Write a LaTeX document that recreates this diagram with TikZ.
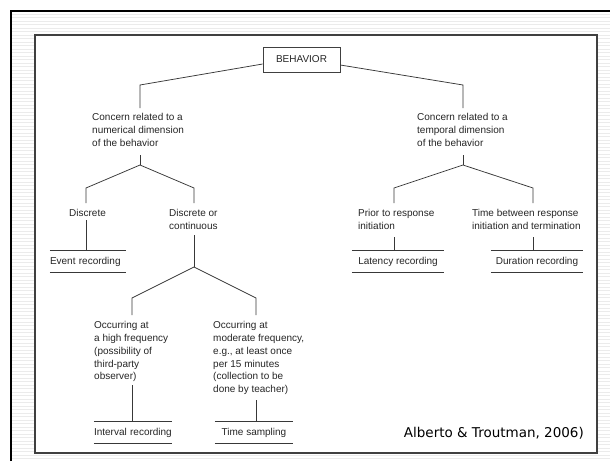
\documentclass[tikz,border=0pt]{standalone}
\usepackage{fontspec}
\setmainfont{Liberation Sans}
\newfontfamily\citefont{DejaVu Sans}
\begin{document}
\begin{tikzpicture}[x=1pt,y=-1pt,
  ln/.style={draw=black!78, line width=0.75pt},
  lbl/.style={inner sep=0pt, align=left, anchor=north west, font=\fontsize{10}{12.8}\selectfont, text=black!85},
  rec/.style={inner sep=0pt, minimum height=21pt, text height=7.5pt, text depth=2pt, font=\fontsize{10}{12}\selectfont, text=black!85},
  recl/.style={rec, align=left},
  stripe/.style={draw=gray!16, line width=1pt}]
\useasboundingbox (0,0) rectangle (610,461);
\fill[white] (0,0) rectangle (610,461);
\foreach \yy in {14,17.5,...,460} \draw[stripe] (12,\yy) -- (610,\yy);
\draw[line width=2.5pt] (11,461) -- (11,11) -- (610,11);
\draw[draw=black!75, line width=1.5pt, fill=white] (35,35) rectangle (597,453);

% nodes
\node[draw=black!75, line width=0.7pt, minimum width=77pt, minimum height=25pt, inner sep=0pt, font=\fontsize{10}{12}\selectfont, text=black!85] (beh) at (301.5,59.5) {BEHAVIOR};
\node[lbl] (num) at (92,113.5) {Concern related to a\\numerical dimension\\of the behavior};
\node[lbl] (tmp) at (417,113.5) {Concern related to a\\temporal dimension\\of the behavior};
\node[lbl] (disc) at (69,209.3) {Discrete};
\node[lbl] (dorc) at (169,209.3) {Discrete or\\continuous};
\node[lbl] (prior) at (358,209.3) {Prior to response\\initiation};
\node[lbl] (tbet) at (472,209.3) {Time between response\\initiation and termination};
\node[lbl] (high) at (94,321.3) {Occurring at\\a high frequency\\(possibility of\\third-party\\observer)};
\node[lbl] (mod) at (213,321.3) {Occurring at\\moderate frequency,\\e.g., at least once\\per 15 minutes\\(collection to be\\done by teacher)};

\node[recl, text width=76pt] (ev) at (88,261.5) {Event recording};
\node[rec, minimum width=92pt] (lat) at (398,261.5) {Latency recording};
\node[rec, minimum width=92pt] (dur) at (537,261.5) {Duration recording};
\node[recl, text width=78pt] (intv) at (133,432.5) {Interval recording};
\node[rec, minimum width=78pt] (tsam) at (254,432.5) {Time sampling};

\node[font=\citefont\fontsize{13.5}{16}\selectfont, anchor=east, inner sep=0pt] (cite) at (584,433) {Alberto \& Troutman, 2006)};

% rules of the recording labels
\foreach \n in {ev,lat,dur,intv,tsam}
  \draw[ln] (\n.north west) -- (\n.north east) (\n.south west) -- (\n.south east);

% connector points
\coordinate (kL) at (140,85);   \coordinate (numT) at (140,108);
\coordinate (numB) at (140,155); \coordinate (j1) at (140,165);
\coordinate (kD) at (86,188);   \coordinate (discT) at (86,203); \coordinate (discB) at (86,220);
\coordinate (kC) at (194,188);  \coordinate (dorcT) at (194,203);
\coordinate (dorcB) at (194,235); \coordinate (j2) at (194,267);
\coordinate (kH) at (132,298);  \coordinate (highT) at (132,315); \coordinate (highB) at (132,385);
\coordinate (kM) at (256,298);  \coordinate (modT) at (256,315);  \coordinate (modB) at (256,400);
\coordinate (kR) at (463,85);   \coordinate (tmpT) at (463,108);
\coordinate (tmpB) at (463,155); \coordinate (j3) at (463,165);
\coordinate (kP) at (394,188);  \coordinate (priorT) at (394,203); \coordinate (priorB) at (394,237);
\coordinate (kT) at (533,188);  \coordinate (tbetT) at (533,203);  \coordinate (tbetB) at (533,237);

% connectors
\draw[ln] ([yshift=-4.5pt]beh.west) -- (kL) -- (numT);
\draw[ln] ([yshift=-5.5pt]beh.east) -- (kR) -- (tmpT);
\draw[ln] (numB) -- (j1);
\draw[ln] (j1) -- (kD) -- (discT);
\draw[ln] (j1) -- (kC) -- (dorcT);
\draw[ln] (discB) -- (ev.north -| discB);
\draw[ln] (dorcB) -- (j2);
\draw[ln] (j2) -- (kH) -- (highT);
\draw[ln] (j2) -- (kM) -- (modT);
\draw[ln] (highB) -- (intv.north -| highB);
\draw[ln] (modB) -- (tsam.north -| modB);
\draw[ln] (tmpB) -- (j3);
\draw[ln] (j3) -- (kP) -- (priorT);
\draw[ln] (j3) -- (kT) -- (tbetT);
\draw[ln] (priorB) -- (lat.north -| priorB);
\draw[ln] (tbetB) -- (dur.north -| tbetB);
\end{tikzpicture}
\end{document}
